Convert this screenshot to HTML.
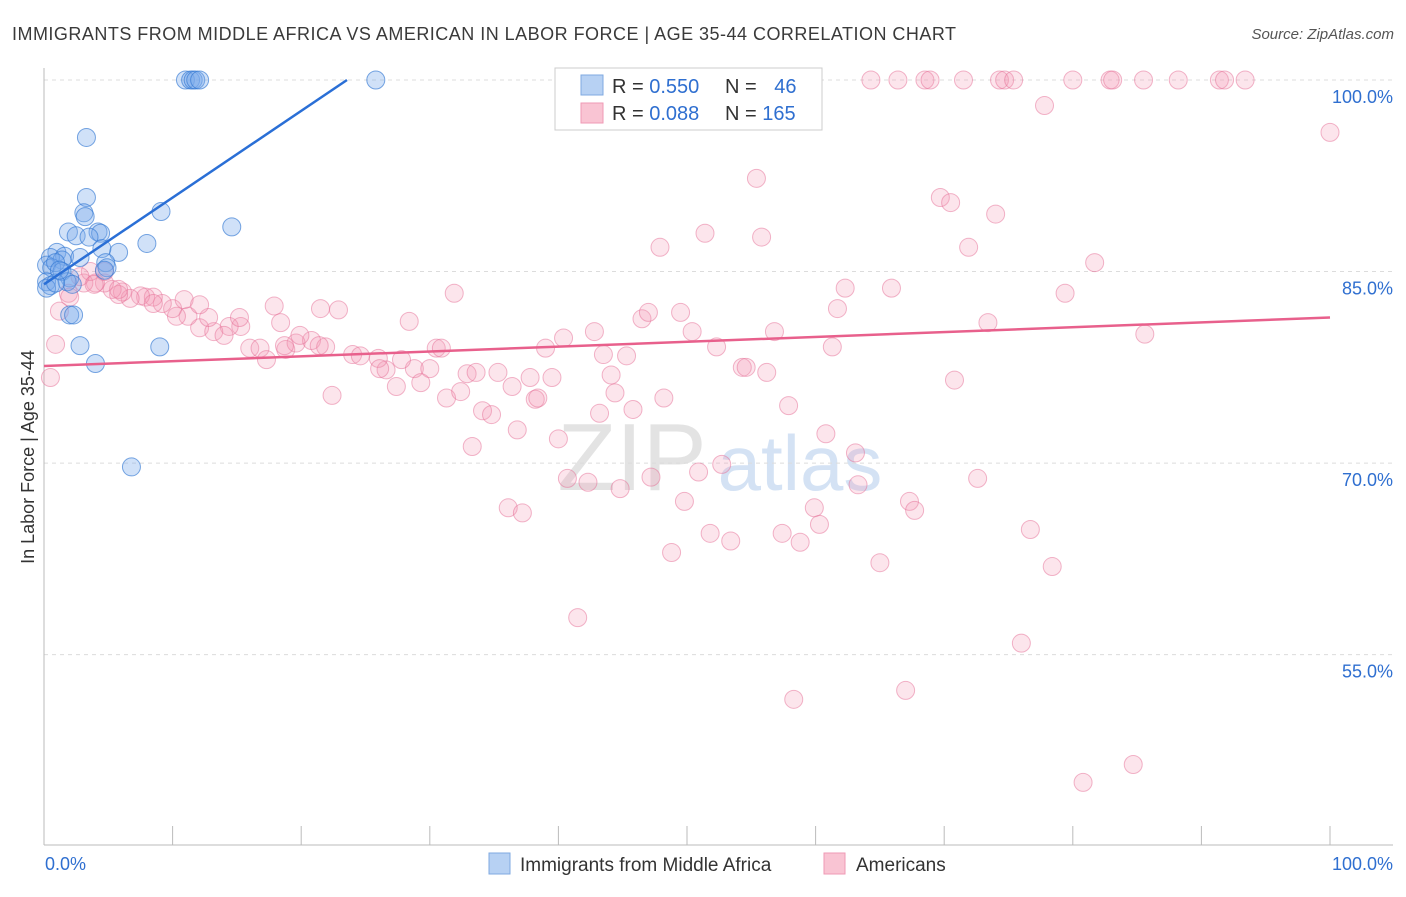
<!DOCTYPE html>
<html><head><meta charset="utf-8"><style>
body{margin:0;background:#fff;font-family:"Liberation Sans",sans-serif;}
svg text{font-family:"Liberation Sans",sans-serif;}
</style></head><body>
<svg id="chart" width="1406" height="892" viewBox="0 0 1406 892" xmlns="http://www.w3.org/2000/svg">
<text x="12" y="40" font-size="18" fill="#3a3a3a" textLength="944" lengthAdjust="spacing">IMMIGRANTS FROM MIDDLE AFRICA VS AMERICAN IN LABOR FORCE | AGE 35-44 CORRELATION CHART</text>
<text x="1394" y="39" font-size="15" fill="#555" font-style="italic" text-anchor="end">Source: ZipAtlas.com</text>
<g>
<text x="632" y="490" font-size="96" fill="#d8d8d8" font-family="Liberation Serif,serif" text-anchor="middle" opacity="0.7">ZIP</text>
<text x="800" y="490" font-size="78" fill="#b8d0ee" text-anchor="middle" opacity="0.6">atlas</text>
</g>
<g id="grid"></g>
<g id="axes"></g>
<g id="marks"></g>
<text x="34" y="457" font-size="18" fill="#333" text-anchor="middle" transform="rotate(-90 34 457)">In Labor Force | Age 35-44</text>
<g>
<rect x="555" y="68" width="267" height="62" fill="#fff" stroke="#ccc"/>
<rect x="581" y="75" width="22" height="20" fill="#b7d1f3" stroke="#7fa9e0"/>
<rect x="581" y="103" width="22" height="20" fill="#f9c4d3" stroke="#ef9ab4"/>
<text x="612" y="93" font-size="20" fill="#333">R = <tspan fill="#2f6fd0">0.550</tspan></text>
<text x="725" y="93" font-size="20" fill="#333">N = <tspan fill="#2f6fd0" dx="12">46</tspan></text>
<text x="612" y="120" font-size="20" fill="#333">R = <tspan fill="#2f6fd0">0.088</tspan></text>
<text x="725" y="120" font-size="20" fill="#333">N = <tspan fill="#2f6fd0">165</tspan></text>
</g>
<g>
<rect x="489" y="853" width="21" height="21" fill="#b7d1f3" stroke="#7fa9e0"/>
<text x="520" y="871" font-size="19" fill="#333">Immigrants from Middle Africa</text>
<rect x="824" y="853" width="21" height="21" fill="#f9c4d3" stroke="#ef9ab4"/>
<text x="856" y="871" font-size="19" fill="#333">Americans</text>
</g>
</svg>
<script>
const yTicks=[100,85,70,55];
const yTickLabels=["100.0%","85.0%","70.0%","55.0%"];
const xTicks=[0,10,20,30,40,50,60,70,80,90,100];
const blueX=[11.0,11.4,11.6,11.8,12.1,25.8,3.3,3.3,3.1,3.2,9.1,14.6,1.9,2.5,4.2,4.4,3.5,8.0,5.8,4.5,1.0,1.6,0.5,1.4,2.8,4.8,4.9,0.2,0.6,0.9,1.4,2.0,0.2,0.5,0.2,1.8,2.2,0.9,2.0,2.3,2.8,9.0,4.0,6.8,4.7,1.2];
const blueY=[100,100,100,100,100,100,95.5,90.8,89.6,89.3,89.7,88.5,88.1,87.8,88.1,88.0,87.7,87.2,86.5,86.8,86.5,86.2,86.1,85.9,86.1,85.7,85.3,85.5,85.3,85.7,85.0,84.5,84.2,83.9,83.7,84.2,84.0,84.1,81.6,81.6,79.2,79.1,77.8,69.7,85.1,85.1];
const pinkX=[64.3,66.4,68.5,68.9,71.5,74.3,74.7,75.4,80,82.9,83.1,85.5,88.2,91.4,91.8,93.4,77.8,100,
69.7,70.5,74.0,71.9,81.7,79.4,65.9,62.3,73.4,85.6,70.8,61.7,61.3,63.1,63.3,72.6,67.3,67.7,76.7,78.4,65.0,76.0,67.0,84.7,80.8,58.3,
55.4,51.4,47.9,55.8,31.9,17.9,21.5,22.9,28.4,46.5,47.0,49.5,42.8,50.4,56.8,40.4,39.0,30.5,30.9,43.5,45.3,52.3,54.3,54.6,56.2,37.8,39.5,35.3,44.1,28.8,30.0,26.6,27.8,26.0,24.0,20.8,21.9,18.8,19.6,18.7,15.3,16.0,16.8,17.3,18.4,14.4,12.1,13.2,14.0,12.8,15.2,11.2,10.3,10.0,10.9,9.2,12.1,7.9,8.5,7.5,6.7,6.1,5.8,5.3,4.7,4.0,3.1,3.6,4.7,2.8,1.9,1.2,0.9,0.5,31.3,32.4,34.1,34.8,32.9,33.6,36.4,38.2,38.4,36.8,40.0,43.2,44.4,45.8,48.2,57.9,60.8,33.3,22.4,27.4,29.3,36.1,37.2,40.7,42.3,44.8,47.2,49.8,50.9,52.7,51.8,53.4,57.4,58.8,59.9,60.3,48.8,41.5,19.9,21.4,24.6,26.1,8.5,5.8,3.9,2.0];
const pinkY=[100,100,100,100,100,100,100,100,100,100,100,100,100,100,100,100,98.0,95.9,
90.8,90.4,89.5,86.9,85.7,83.3,83.7,83.7,81.0,80.1,76.5,82.1,79.1,70.8,68.3,68.8,67.0,66.3,64.8,61.9,62.2,55.9,52.2,46.4,45.0,51.5,
92.3,88.0,86.9,87.7,83.3,82.3,82.1,82.0,81.1,81.3,81.8,81.8,80.3,80.3,80.3,79.8,79.0,79.0,79.0,78.5,78.4,79.1,77.5,77.5,77.1,76.7,76.7,77.1,76.9,77.4,77.4,77.3,78.1,78.2,78.5,79.6,79.1,78.9,79.4,79.2,80.7,79.0,79.0,78.1,81.0,80.7,80.6,80.3,80.0,81.4,81.4,81.5,81.5,82.1,82.8,82.5,82.4,83.0,83.0,83.1,82.9,83.4,83.2,83.6,84.1,84.1,84.1,85.0,85.0,84.6,83.3,81.9,79.3,76.7,75.1,75.6,74.1,73.8,77.0,77.1,76.0,75.0,75.1,72.6,71.9,73.9,75.5,74.2,75.1,74.5,72.3,71.3,75.3,76.0,76.3,66.5,66.1,68.8,68.5,68.0,68.9,67.0,69.3,69.9,64.5,63.9,64.5,63.8,66.5,65.2,63.0,57.9,80.0,79.2,78.4,77.4,82.5,83.6,84.0,83.0];
const blueTrend=[0,84.0,23.56,100];
const pinkTrend=[0,77.6,100,81.4];

const NS="http://www.w3.org/2000/svg";
const X0=44,X1=1330,YTOP=80,PXPER=12.77;
function sx(v){return X0+(X1-X0)*v/100;}
function sy(v){return YTOP+(100-v)*PXPER;}
function mk(tag,attrs,parent){const e=document.createElementNS(NS,tag);for(const k in attrs)e.setAttribute(k,attrs[k]);parent.appendChild(e);return e;}
const grid=document.getElementById('grid'),axes=document.getElementById('axes'),marks=document.getElementById('marks');
yTicks.forEach((t,i)=>{
  const l=mk('line',{x1:X0,x2:1393,y1:sy(t),y2:sy(t),stroke:'#dcdcdc','stroke-dasharray':'4,4'},grid);
  
  
  const tx=mk('text',{x:1393,y:sy(t)+23,'font-size':18,fill:'#2f6fd0','text-anchor':'end'},axes);
  tx.textContent=yTickLabels[i];
  
  
});
const yax=mk('line',{x1:X0,x2:X0,y1:68,y2:845,stroke:'#bbb'},axes);


const xax=mk('line',{x1:X0,x2:1393,y1:845,y2:845,stroke:'#bbb'},axes);


xTicks.forEach(t=>{
  const l=mk('line',{x1:sx(t),x2:sx(t),y1:826,y2:845,stroke:'#bbb'},axes);
  
  
});
const xl0=mk('text',{x:45,y:870,'font-size':18,fill:'#2f6fd0'},axes);xl0.textContent='0.0%';


const xl1=mk('text',{x:1393,y:870,'font-size':18,fill:'#2f6fd0','text-anchor':'end'},axes);xl1.textContent='100.0%';


pinkX.forEach((v,i)=>{
  const c=mk('circle',{cx:sx(v),cy:sy(pinkY[i]),r:9,fill:'rgba(244,150,178,0.25)',stroke:'rgba(230,110,150,0.5)','stroke-width':1},marks);
  
  
});
blueX.forEach((v,i)=>{
  const c=mk('circle',{cx:sx(v),cy:sy(blueY[i]),r:9,fill:'rgba(120,170,235,0.35)',stroke:'rgba(50,120,210,0.65)','stroke-width':1},marks);
  
  
});
const bt=mk('line',{x1:sx(blueTrend[0]),y1:sy(blueTrend[1]),x2:sx(blueTrend[2]),y2:sy(blueTrend[3]),stroke:'#2a6fd6','stroke-width':2.5},marks);


const pt=mk('line',{x1:sx(pinkTrend[0]),y1:sy(pinkTrend[1]),x2:sx(pinkTrend[2]),y2:sy(pinkTrend[3]),stroke:'#e8608c','stroke-width':2.5},marks);


</script>
</body></html>
